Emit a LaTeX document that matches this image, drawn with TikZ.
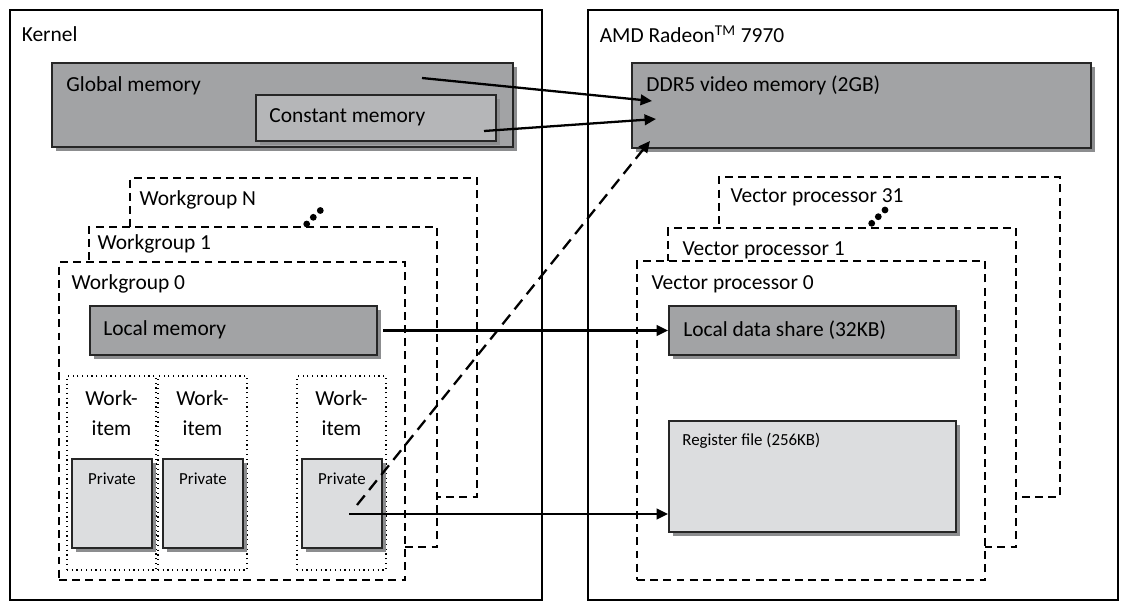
\documentclass[tikz,border=0pt]{standalone}
\usepackage{fontspec}
\setmainfont{Carlito}
\usetikzlibrary{fit,shadows,arrows.meta}
\definecolor{darkmem}{HTML}{A2A3A5}
\definecolor{constmem}{HTML}{B5B6B8}
\definecolor{lightmem}{HTML}{DCDDDF}
\definecolor{shade}{HTML}{8C8D8F}
\tikzset{
	outerbox/.style={draw, line width=0.65pt, inner sep=0pt},
	membox/.style={draw=black!85, line width=1.1pt, inner sep=0pt,
		drop shadow={shadow xshift=0.07cm, shadow yshift=-0.07cm, fill=shade, opacity=1}},
	groupbox/.style={draw, fill=white, line width=0.85pt, dash pattern=on 4.5pt off 3pt, inner sep=0pt},
	itembox/.style={draw, dotted, line width=0.7pt, inner sep=0pt},
	txt/.style={anchor=west, inner sep=0pt, yshift=-0.055cm, font=\fontsize{12.2}{14}\selectfont},
	smalltxt/.style={inner sep=0pt, yshift=-0.04cm, font=\fontsize{9.6}{11}\selectfont},
	itemtxt/.style={anchor=north, align=center, inner sep=0pt, yshift=-0.08cm, font=\fontsize{12.2}{17.2}\selectfont},
	link/.style={->, line width=1.3pt},
}
\begin{document}
\begin{tikzpicture}[>={Triangle[length=6.5pt,width=6pt]},x=0.02cm,y=-0.02cm]
		\useasboundingbox (0,0) rectangle (1125,609);
		% kernel side
		\node[outerbox, fit={(10,10) (542,600)}] (kernel) {};
		\node[txt] (kernel-t) at ([shift={(12,22)}]kernel.north west) {Kernel};
		\node[membox, fill=darkmem, fit={(52,63) (513,147)}] (glob) {};
		\node[txt] (glob-t) at ([shift={(15,21)}]glob.north west) {Global memory};
		\node[membox, fill=constmem, fit={(256,95) (496,141)}] (const) {};
		\node[txt] (const-t) at ([shift={(14,20)}]const.north west) {Constant memory};
		\node[groupbox, fit={(130,178) (477,497)}] (wgN) {};
		\node[txt] (wgN-t) at ([shift={(10,20)}]wgN.north west) {Workgroup N};
		\node[groupbox, fit={(89,227) (437,547)}] (wg1) {};
		\node[txt] (wg1-t) at ([shift={(9,15)}]wg1.north west) {Workgroup 1};
		\foreach \p in {(306.7,224),(313.3,217.3),(320.3,210.5)}
		\fill \p circle (3.4);
		\node[groupbox, fit={(59,262) (405,580)}] (wg0) {};
		\node[txt] (wg0-t) at ([shift={(13,20)}]wg0.north west) {Workgroup 0};
		\node[membox, fill=darkmem, fit={(90,306) (377,355)}] (locmem) {};
		\node[txt] (locmem-t) at ([shift={(14,22)}]locmem.north west) {Local memory};
		\foreach \n/\x in {1/67,2/158,3/297}{
			\node[itembox, fit={(\x,376) (\x+89,570)}] (item\n) {};
			\node[itemtxt] (item\n-t) at ([shift={(0,11)}]item\n.north) {Work-\\item};
			\node[membox, fill=lightmem, fit={(\x+5,459) (\x+85,548)}] (priv\n) {};
			\node[smalltxt] (priv\n-t) at ([shift={(0,19)}]priv\n.north) {Private};
		}
		% GPU side
		\node[outerbox, fit={(588,10) (1118,600)}] (gpu) {};
		\node[txt] (gpu-t) at ([shift={(12,22)}]gpu.north west) {AMD Radeon\textsuperscript{TM} 7970};
		\node[membox, fill=darkmem, fit={(632,63) (1091,148)}] (ddr) {};
		\node[txt] (ddr-t) at ([shift={(15,21)}]ddr.north west) {DDR5 video memory (2GB)};
		\node[groupbox, fit={(719,177) (1060,497)}] (vp31) {};
		\node[txt] (vp31-t) at ([shift={(12,18)}]vp31.north west) {Vector processor 31};
		\node[groupbox, fit={(668,228) (1016,547)}] (vp1) {};
		\node[txt] (vp1-t) at ([shift={(15,20)}]vp1.north west) {Vector processor 1};
		\foreach \p in {(871.7,223.3),(878.3,216.7),(885,210)}
		\fill \p circle (3.4);
		\node[groupbox, fit={(637,261) (985,580)}] (vp0) {};
		\node[txt] (vp0-t) at ([shift={(15,21)}]vp0.north west) {Vector processor 0};
		\node[membox, fill=darkmem, fit={(669,306) (956,355)}] (lds) {};
		\node[txt] (lds-t) at ([shift={(15,22)}]lds.north west) {Local data share (32KB)};
		\node[membox, fill=lightmem, fit={(669,421) (956,532)}] (regfile) {};
		\node[smalltxt, anchor=west] (regfile-t) at ([shift={(14,19)}]regfile.north west) {Register file (256KB)};
		% mappings
		\coordinate (glob-out) at (422,78);
		\coordinate (ddr-in1) at (652,101);
		\coordinate (const-out) at (484,131);
		\coordinate (ddr-in2) at (656,119);
		\coordinate (priv-up) at (357,505);
		\coordinate (ddr-in3) at (650,141);
		\coordinate (priv-out) at (349,514);
		\draw[link] (glob-out) -- (ddr-in1);
		\draw[link] (const-out) -- (ddr-in2);
		\draw[link, dash pattern=on 7pt off 4pt] (priv-up) -- (ddr-in3);
		\draw[link, shorten <=3pt] (locmem.east) -- (lds.west);
		\draw[link] (priv-out) -- (priv-out -| regfile.west);
\end{tikzpicture}
\end{document}
